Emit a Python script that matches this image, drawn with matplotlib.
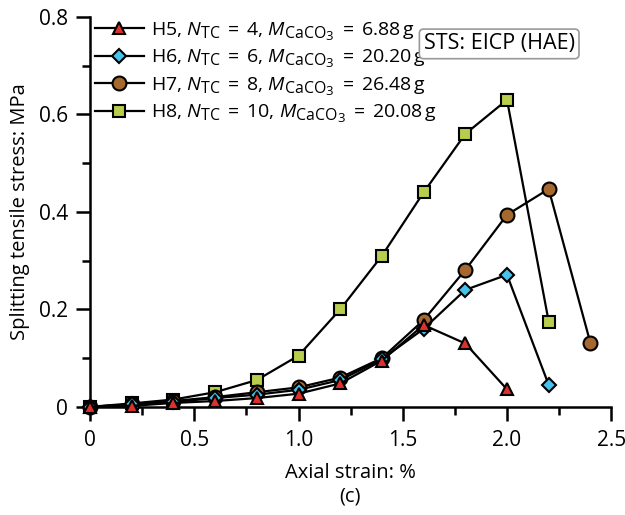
import numpy as np
import matplotlib
matplotlib.use("Agg")
import matplotlib.pyplot as plt
import matplotlib._mathtext as mathtext_internal
from matplotlib.ticker import MultipleLocator

plt.rcParams['font.family'] = ['Open Sans', 'DejaVu Sans']
plt.rcParams['mathtext.fontset'] = 'custom'
plt.rcParams['mathtext.rm'] = 'Open Sans'
plt.rcParams['mathtext.it'] = 'Open Sans:italic'
# subscripts in the original are larger than matplotlib's default
mathtext_internal.SHRINK_FACTOR = 0.82

# axial strain (%) for each series
x_h5 = [0, 0.2, 0.4, 0.6, 0.8, 1.0, 1.2, 1.4, 1.6, 1.8, 2.0]
x_h6 = [0, 0.2, 0.4, 0.6, 0.8, 1.0, 1.2, 1.4, 1.6, 1.8, 2.0, 2.2]
x_h7 = [0, 0.2, 0.4, 0.6, 0.8, 1.0, 1.2, 1.4, 1.6, 1.8, 2.0, 2.2, 2.4]
x_h8 = [0, 0.2, 0.4, 0.6, 0.8, 1.0, 1.2, 1.4, 1.6, 1.8, 2.0, 2.2]

# splitting tensile stress (MPa)
y_h5 = [0, 0.002, 0.008, 0.012, 0.018, 0.027, 0.048, 0.095, 0.168, 0.13, 0.036]
y_h6 = [0, 0.005, 0.01, 0.018, 0.025, 0.035, 0.055, 0.098, 0.16, 0.24, 0.271, 0.045]
y_h7 = [0, 0.005, 0.012, 0.02, 0.03, 0.04, 0.06, 0.1, 0.178, 0.281, 0.394, 0.447, 0.131]
y_h8 = [0, 0.007, 0.015, 0.03, 0.055, 0.105, 0.2, 0.31, 0.44, 0.56, 0.63, 0.175]

labels = [r'H5, $N_{\mathrm{TC}}$ $\,$=$\,$ 4, $M_{\mathrm{CaCO_3}}$ $\,$=$\,$ 6.88$\,$g',
          r'H6, $N_{\mathrm{TC}}$ $\,$=$\,$ 6, $M_{\mathrm{CaCO_3}}$ $\,$=$\,$ 20.20$\,$g',
          r'H7, $N_{\mathrm{TC}}$ $\,$=$\,$ 8, $M_{\mathrm{CaCO_3}}$ $\,$=$\,$ 26.48$\,$g',
          r'H8, $N_{\mathrm{TC}}$ $\,$=$\,$ 10, $M_{\mathrm{CaCO_3}}$ $\,$=$\,$ 20.08$\,$g']

fs = 14.5

fig = plt.figure(figsize=(6.25, 5.15), dpi=100)
ax = fig.add_axes([0.144, 0.21, 0.834, 0.757])

# draw from back to front so the triangles end up on top
h8, = ax.plot(x_h8, y_h8, '-s', color='black', lw=1.6, mfc='#b8cd4e', mec='black',
              mew=1.5, ms=9, zorder=3, clip_on=False)
h7, = ax.plot(x_h7, y_h7, '-o', color='black', lw=1.6, mfc='#a5682e', mec='black',
              mew=1.5, ms=10, zorder=4, clip_on=False)
h6, = ax.plot(x_h6, y_h6, '-D', color='black', lw=1.6, mfc='#45c3ec', mec='black',
              mew=1.5, ms=7, zorder=5, clip_on=False)
h5, = ax.plot(x_h5, y_h5, '-^', color='black', lw=1.6, mfc='#e0302c', mec='black',
              mew=1.5, ms=9, zorder=6, clip_on=False)

leg = ax.legend([h5, h6, h7, h8], labels, loc='upper left', bbox_to_anchor=(-0.005, 1.012),
                frameon=False, fontsize=14, handlelength=2.5, handletextpad=0.35,
                labelspacing=0.26, borderaxespad=0)

ax.text(0.785, 0.931, 'STS: EICP (HAE)', transform=ax.transAxes, fontsize=15.5,
        ha='center', va='center', zorder=10,
        bbox=dict(boxstyle='round,pad=0.2', fc='white', ec='#999999', lw=1.2))

ax.set_xlim(0, 2.5)
ax.set_ylim(0, 0.8)
ax.xaxis.set_major_locator(MultipleLocator(0.5))
ax.xaxis.set_minor_locator(MultipleLocator(0.25))
ax.yaxis.set_major_locator(MultipleLocator(0.2))
ax.yaxis.set_minor_locator(MultipleLocator(0.1))
ax.set_xticks([0, 0.5, 1.0, 1.5, 2.0, 2.5], ['0', '0.5', '1.0', '1.5', '2.0', '2.5'])
ax.set_yticks([0, 0.2, 0.4, 0.6, 0.8], ['0', '0.2', '0.4', '0.6', '0.8'])
ax.tick_params(axis='x', which='major', length=10, width=1.8, labelsize=15, pad=7)
ax.tick_params(axis='y', which='major', length=10, width=1.8, labelsize=15, pad=6)
ax.tick_params(which='minor', length=6, width=1.8)
ax.spines['top'].set_visible(False)
ax.spines['right'].set_visible(False)
ax.spines['left'].set_linewidth(1.8)
ax.spines['bottom'].set_linewidth(1.8)

ax.set_xlabel('Axial strain: %', fontsize=fs, labelpad=8)
ax.set_ylabel('Splitting tensile stress: MPa', fontsize=fs, labelpad=6)
fig.text(0.56, 0.035, '(c)', fontsize=fs, ha='center', va='center')

fig.savefig('out.png', dpi=100)
